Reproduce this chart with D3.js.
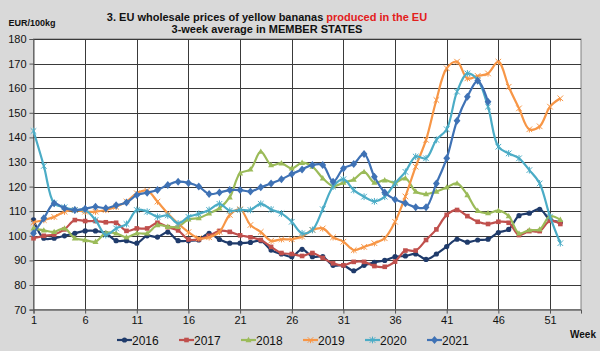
<!DOCTYPE html>
<html>
<head>
<meta charset="utf-8">
<script src="https://cdn.jsdelivr.net/npm/d3@7"></script>
<style>
  body { margin: 0; background: #d9d9d9; }
  svg { display: block; font-family: "Liberation Sans", Arial, sans-serif; }
</style>
</head>
<body>
<div id="chart"></div>
<script>
var width = 600,
    height = 351;

// week numbers on the axis
var weekTicks = [1, 6, 11, 16, 21, 26, 31, 36, 41, 46, 51];
var valueTicks = [70, 80, 90, 100, 110, 120, 130, 140, 150, 160, 170, 180];
var years = ['2016', '2017', '2018', '2019', '2020', '2021'];

var s2016 = [106.5, 99, 99, 100, 101, 102, 102, 101, 98, 98, 97, 100, 99.5, 101.5, 98, 98, 98.3, 101, 98.5, 97,
    97, 97.3, 98, 94.2, 92.6, 91.5, 94.5, 91.5, 91.5, 88, 88, 85.8, 88, 89.2, 90, 91.5, 91.8, 92.6, 90.4, 92.6,
    95.6, 98.6, 97.4, 98.3, 98.6, 101.3, 102.6, 108.2, 109.2, 110.8, 106.6, 105.5];
var s2017 = [99, 100, 100.5, 102.6, 106.4, 106, 106, 105.5, 105.3, 102, 103, 103, 105.3, 103.5, 102.2, 98.5, 98.6, 100, 102, 101.6,
    100.2, 99.4, 98.3, 95.5, 93, 92.6, 91.8, 93, 91, 88.8, 88, 89.4, 89.4, 87.7, 87.4, 89.5, 94, 94, 98.3, 102.6,
    108.5, 110.5, 108, 105.7, 104.8, 105.7, 105.3, 100.3, 101.9, 101.9, 106.1, 104.8];
var s2018 = [103, 102.2, 101.6, 103, 99, 98.3, 97.6, 101.2, 101, 99.4, 101, 101, 104.4, 103.7, 103.7, 106.7, 107.2, 109.1, 111.2, 115.7,
    125.4, 127, 134.2, 128.8, 129.5, 127.4, 129.7, 128.1, 123.4, 120.2, 121.6, 122.9, 126, 121.6, 122.6, 121.6, 123.4, 118, 117, 118,
    119.7, 121.3, 116.6, 110.2, 109.2, 110.2, 108, 101, 102.3, 102.6, 108, 106.5];
var s2019 = [105.5, 106.4, 107.7, 109.8, 110.5, 109.8, 109.8, 110.5, 111.8, 113.9, 117.3, 118.4, 113.9, 109.1, 105, 101.5, 99, 99.4, 101.6, 108.5,
    110.8, 104.4, 101.6, 98, 98.6, 98.6, 99.7, 102.4, 103, 99.4, 97.6, 94.2, 95.5, 97, 99, 105.7, 116, 128.1, 139, 155.2,
    168.1, 170.8, 164, 165, 166, 170.8, 160.6, 151.8, 143.3, 144.5, 152.5, 155.9];
var s2020 = [142.6, 128.4, 113.2, 111.6, 110.5, 110.5, 106.4, 100.3, 103, 104.8, 110.5, 109.8, 107.7, 108.3, 105, 107.7, 108.9, 110.5, 113, 110.2,
    110.5, 110.5, 113, 110.7, 109.1, 105.7, 101, 102.4, 110.8, 120, 123, 118.6, 115.9, 114, 115.9, 121.3, 126, 132.2, 131.5, 139,
    143.3, 158.6, 166, 163.4, 152.5, 136.2, 133.5, 131.5, 126.7, 121.3, 107.8, 97];
var s2021 = [101, 107.1, 113.2, 111.2, 110.5, 111, 111.8, 111.2, 112.4, 113.5, 116.6, 117.5, 118.6, 120.7, 122, 121.5, 120, 117, 117.6, 118.6,
    118.6, 118, 119.7, 121.3, 123, 125.1, 127, 128.8, 128.8, 122, 127.4, 129.2, 133.3, 124, 117.6, 114.8, 113.2, 111.6, 111.6, 121.3,
    131.5, 146.8, 156.5, 163, 154.5];

var seriesValues = [s2016, s2017, s2018, s2019, s2020, s2021];
var colors = ['#1f3b6b', '#c0504d', '#9bbb59', '#f79646', '#4bacc6', '#3f72b5'];
var markers = ['circle', 'square', 'triangle', 'star', 'asterisk', 'diamond'];

var margin = {top: 39, right: 19, bottom: 41.4, left: 33.5};

var svg = d3.select('#chart')
    .append('svg')
    .attr('width', width)
    .attr('height', height);

svg.append('rect')
    .attr('width', width)
    .attr('height', height)
    .attr('fill', '#d9d9d9');

var x = d3.scaleLinear()
    .domain([1, 54])
    .range([margin.left, width - margin.right]);

var y = d3.scaleLinear()
    .domain([70, 180])
    .range([height - margin.bottom, margin.top]);

// plot area
svg.append('rect')
    .attr('x', x(1))
    .attr('y', y(180))
    .attr('width', x(54) - x(1))
    .attr('height', y(70) - y(180))
    .attr('fill', '#fff')
    .attr('stroke', '#808080');

// grid
svg.append('g')
    .selectAll('line')
    .data(valueTicks.slice(1))
    .enter()
    .append('line')
    .attr('x1', x(1))
    .attr('x2', x(54))
    .attr('y1', d => Math.round(y(d)) + 0.5)
    .attr('y2', d => Math.round(y(d)) + 0.5)
    .attr('stroke', '#3a3a3a')
    .attr('stroke-width', 1);

svg.append('g')
    .selectAll('line')
    .data(weekTicks.slice(1))
    .enter()
    .append('line')
    .attr('x1', d => Math.round(x(d)) + 0.5)
    .attr('x2', d => Math.round(x(d)) + 0.5)
    .attr('y1', y(180))
    .attr('y2', y(70))
    .attr('stroke', '#3a3a3a')
    .attr('stroke-width', 1);

// axes
var yAxis = svg.append('g')
    .attr('transform', 'translate(' + x(1) + ',0)')
    .call(d3.axisLeft(y).tickValues(valueTicks).tickSize(4).tickPadding(3));

var xAxis = svg.append('g')
    .attr('transform', 'translate(0,' + y(70) + ')')
    .call(d3.axisBottom(x).tickValues(weekTicks).tickSize(4).tickPadding(3));

[yAxis, xAxis].forEach(function (a) {
    a.select('.domain').attr('stroke', '#555');
    a.selectAll('.tick line').attr('stroke', '#555');
    a.selectAll('text')
        .attr('fill', '#111')
        .style('font-size', '11px')
        .style('font-family', '"Liberation Sans", Arial, sans-serif');
});

// titles
var title = svg.append('text')
    .attr('x', 267)
    .attr('y', 21)
    .attr('text-anchor', 'middle')
    .style('font-size', '11px')
    .style('font-weight', 'bold')
    .attr('fill', '#111');
title.append('tspan').text('3. EU wholesale prices of yellow bananas ');
title.append('tspan').attr('fill', '#e3201c').text('produced in the EU');

svg.append('text')
    .attr('x', 267)
    .attr('y', 32.5)
    .attr('text-anchor', 'middle')
    .style('font-size', '11px')
    .style('font-weight', 'bold')
    .attr('fill', '#111')
    .text('3-week average in MEMBER STATES');

svg.append('text')
    .attr('x', 8.5)
    .attr('y', 26)
    .style('font-size', '9px')
    .style('font-weight', 'bold')
    .attr('fill', '#111')
    .text('EUR/100kg');

svg.append('text')
    .attr('x', 570)
    .attr('y', 338)
    .style('font-size', '10px')
    .style('font-weight', 'bold')
    .attr('fill', '#111')
    .text('Week');

function drawMarker(sel, type, color) {
    if (type === 'circle') {
        sel.append('circle').attr('r', 2.6).attr('fill', color);
    } else if (type === 'square') {
        sel.append('rect').attr('x', -2.3).attr('y', -2.3).attr('width', 4.6).attr('height', 4.6).attr('fill', color);
    } else if (type === 'triangle') {
        sel.append('path').attr('d', 'M0,-3.2L3,2.2L-3,2.2Z').attr('fill', color);
    } else if (type === 'diamond') {
        sel.append('path').attr('d', 'M0,-4L3.4,0L0,4L-3.4,0Z').attr('fill', color);
    } else if (type === 'star') {
        sel.append('path').attr('d', 'M-2.8,-2.8L2.8,2.8M-2.8,2.8L2.8,-2.8M0,0L0,3.2')
            .attr('stroke', color).attr('stroke-width', 1).attr('fill', 'none');
    } else {
        sel.append('path').attr('d', 'M-2.8,-2.8L2.8,2.8M-2.8,2.8L2.8,-2.8M0,-3.4L0,3.4')
            .attr('stroke', color).attr('stroke-width', 1).attr('fill', 'none');
    }
}

var line = d3.line()
    .x((d, i) => x(i + 1))
    .y(d => y(d))
    .curve(d3.curveCatmullRom.alpha(0.5));

var plot = svg.append('g');

seriesValues.forEach(function (vals, k) {
    var g = plot.append('g').attr('class', 'series y' + years[k]);
    g.append('path')
        .datum(vals)
        .attr('d', line)
        .attr('fill', 'none')
        .attr('stroke', colors[k])
        .attr('stroke-width', 2.2);
    g.selectAll('.m')
        .data(vals)
        .enter()
        .append('g')
        .attr('class', 'm')
        .attr('transform', (d, i) => 'translate(' + x(i + 1) + ',' + y(d) + ')')
        .each(function () { drawMarker(d3.select(this), markers[k], colors[k]); });
});

// legend
var legend = svg.append('g')
    .attr('transform', 'translate(117,340)');

var item = legend.selectAll('g')
    .data(years)
    .enter()
    .append('g')
    .attr('transform', (d, i) => 'translate(' + (i * 62) + ',0)');

item.append('line')
    .attr('x1', 0)
    .attr('x2', 15)
    .attr('y1', 0)
    .attr('y2', 0)
    .attr('stroke', (d, i) => colors[i])
    .attr('stroke-width', 2.2);

item.append('g')
    .attr('transform', 'translate(7.5,0)')
    .each(function (d, i) { drawMarker(d3.select(this), markers[i], colors[i]); });

item.append('text')
    .attr('x', 15)
    .attr('y', 4.5)
    .style('font-size', '12px')
    .attr('fill', '#111')
    .text(d => d);
</script>
</body>
</html>
